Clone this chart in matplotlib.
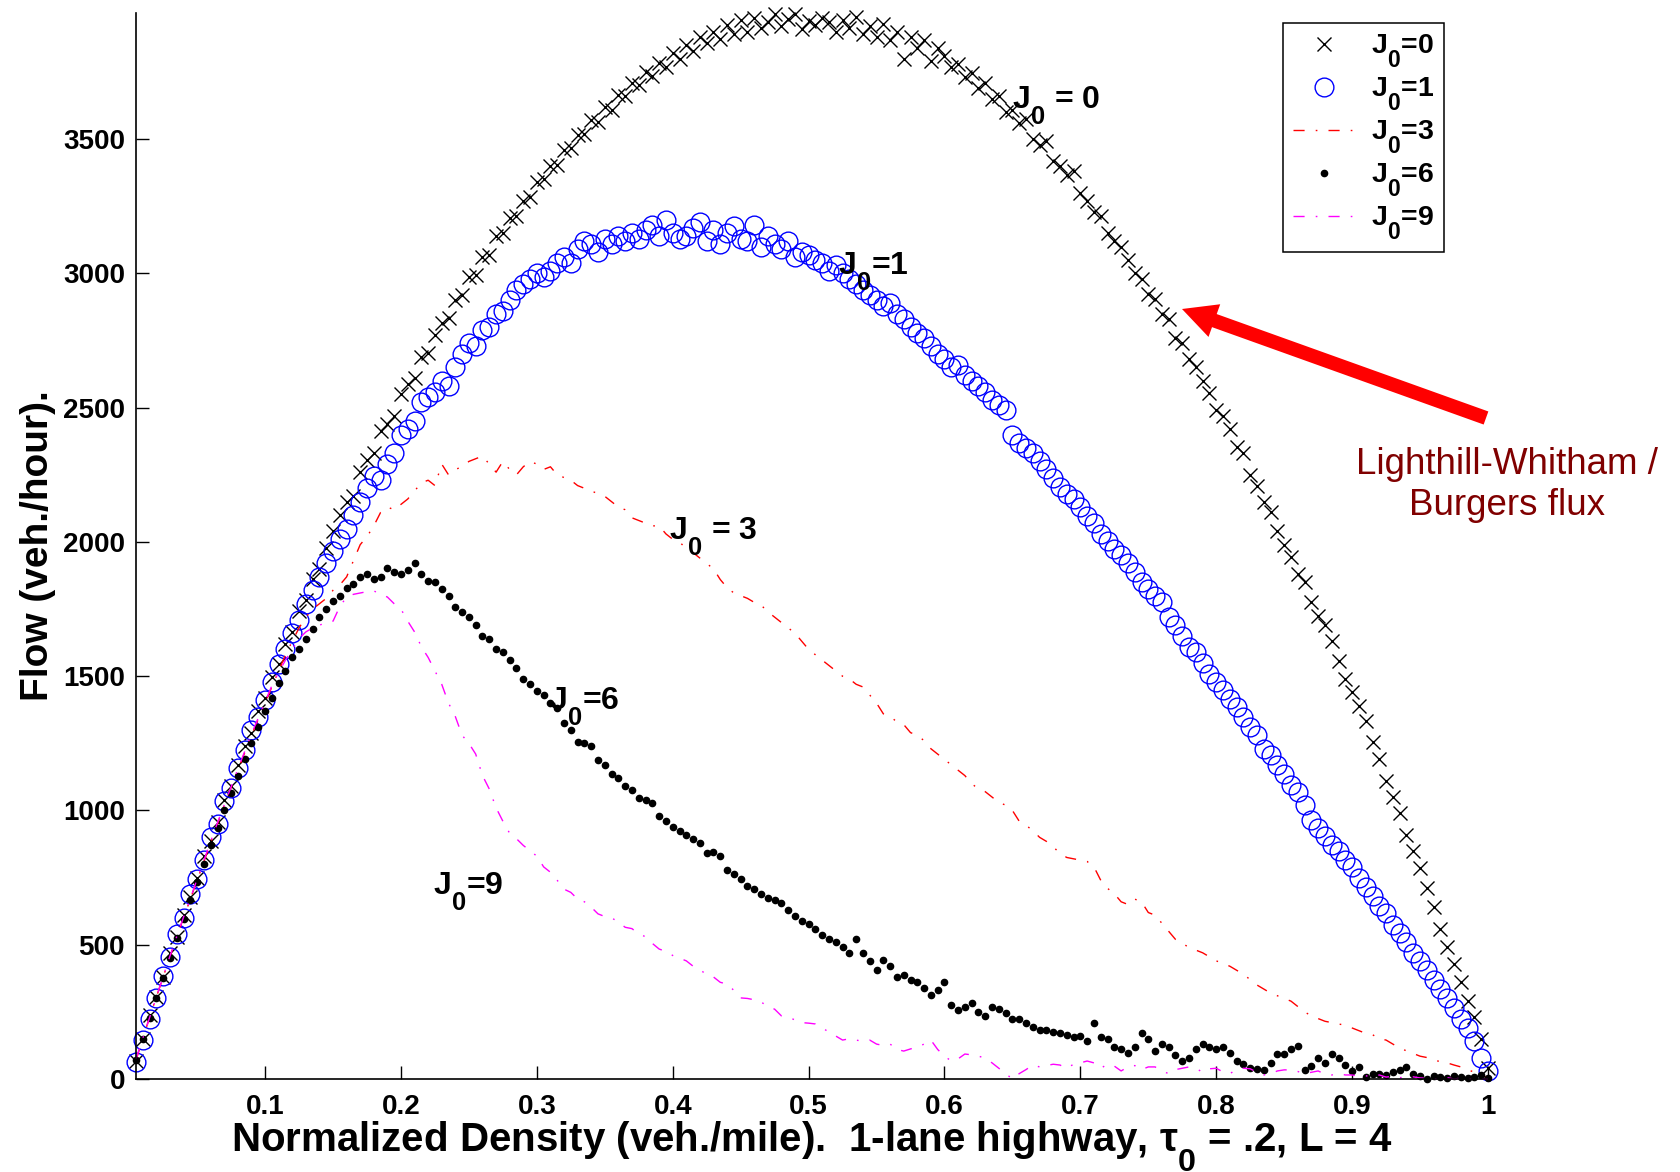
import numpy as np
import matplotlib.pyplot as plt
import matplotlib._mathtext as mathtext_internal
from matplotlib.patches import FancyArrowPatch, ArrowStyle

plt.rcParams['font.family'] = ['Liberation Sans', 'DejaVu Sans']
plt.rcParams['font.weight'] = 'bold'
plt.rcParams['axes.labelweight'] = 'bold'
plt.rcParams['mathtext.fontset'] = 'custom'
plt.rcParams['mathtext.rm'] = 'Liberation Sans:bold'
plt.rcParams['mathtext.it'] = 'Liberation Sans:bold'
plt.rcParams['mathtext.bf'] = 'Liberation Sans:bold'
# MATLAB-like subscripts: larger and dropped lower
mathtext_internal.SHRINK_FACTOR = 0.8
mathtext_internal.FontConstantsBase.sub1 = 0.95

# normalized density grid (200 sites)
density = np.arange(1, 201) / 200

flow_j0 = [66, 150, 240, 305, 380, 468, 530, 612, 676, 748,
           830, 887, 958, 1040, 1092, 1170, 1240, 1290, 1372, 1420,
           1496, 1545, 1620, 1665, 1742, 1785, 1862, 1900, 1978, 2040,
           2100, 2150, 2170, 2262, 2305, 2330, 2415, 2440, 2470, 2552,
           2590, 2612, 2690, 2705, 2770, 2815, 2835, 2900, 2918, 2985,
           2995, 3060, 3070, 3140, 3150, 3205, 3215, 3270, 3285, 3340,
           3350, 3400, 3405, 3460, 3468, 3515, 3520, 3570, 3565, 3620,
           3610, 3665, 3660, 3710, 3700, 3750, 3735, 3785, 3770, 3820,
           3800, 3850, 3830, 3880, 3860, 3900, 3875, 3925, 3890, 3945,
           3900, 3950, 3915, 3935, 3965, 3920, 3948, 3968, 3910, 3940,
           3925, 3950, 3935, 3900, 3945, 3915, 3955, 3890, 3920, 3880,
           3930, 3870, 3900, 3800, 3880, 3840, 3870, 3790, 3840, 3810,
           3770, 3780, 3730, 3745, 3690, 3710, 3650, 3660, 3600, 3610,
           3560, 3575, 3500, 3480, 3495, 3420, 3400, 3365, 3380, 3300,
           3270, 3230, 3215, 3150, 3120, 3100, 3050, 3000, 2980, 2925,
           2905, 2850, 2830, 2760, 2740, 2680, 2650, 2600, 2555, 2490,
           2470, 2420, 2355, 2330, 2250, 2210, 2150, 2110, 2040, 1990,
           1945, 1880, 1850, 1775, 1725, 1690, 1630, 1555, 1490, 1440,
           1390, 1335, 1255, 1190, 1110, 1050, 990, 910, 850, 785,
           710, 640, 560, 490, 430, 360, 290, 230, 150, 40]

flow_j1 = [65, 145, 225, 300, 385, 455, 540, 600, 690, 745,
           815, 900, 950, 1035, 1085, 1160, 1225, 1300, 1350, 1410,
           1480, 1545, 1600, 1660, 1710, 1770, 1820, 1870, 1920, 1965,
           2010, 2050, 2100, 2150, 2200, 2245, 2230, 2290, 2330, 2400,
           2420, 2450, 2520, 2540, 2560, 2600, 2580, 2650, 2700, 2740,
           2730, 2790, 2800, 2850, 2860, 2900, 2940, 2960, 2980, 3000,
           2985, 3010, 3040, 3060, 3040, 3090, 3120, 3110, 3080, 3130,
           3110, 3140, 3120, 3150, 3130, 3160, 3180, 3140, 3200, 3150,
           3130, 3140, 3170, 3190, 3120, 3160, 3110, 3150, 3175, 3130,
           3120, 3180, 3100, 3140, 3110, 3090, 3120, 3060, 3080, 3070,
           3050, 3040, 3010, 3030, 3000, 2980, 2960, 2940, 2920, 2900,
           2880, 2890, 2850, 2830, 2800, 2780, 2760, 2730, 2700, 2680,
           2650, 2660, 2620, 2600, 2580, 2560, 2530, 2510, 2490, 2400,
           2370, 2350, 2330, 2300, 2270, 2240, 2205, 2180, 2160, 2130,
           2095, 2070, 2030, 2005, 1975, 1950, 1920, 1890, 1850, 1825,
           1800, 1775, 1720, 1690, 1650, 1610, 1590, 1550, 1510, 1480,
           1450, 1415, 1385, 1350, 1310, 1280, 1230, 1205, 1170, 1135,
           1095, 1070, 1020, 965, 935, 905, 870, 850, 815, 790,
           750, 715, 680, 645, 620, 575, 545, 510, 470, 440,
           405, 370, 335, 300, 265, 225, 190, 140, 80, 30]

flow_j3 = [70, 150, 230, 305, 380, 455, 530, 600, 670, 740,
           810, 880, 950, 1020, 1085, 1150, 1215, 1280, 1340, 1400,
           1460, 1520, 1580, 1630, 1680, 1720, 1750, 1770, 1790, 1820,
           1840, 1870, 1930, 1990, 2020, 2060, 2110, 2130, 2120, 2140,
           2160, 2190, 2220, 2230, 2210, 2290, 2250, 2270, 2280, 2300,
           2310, 2320, 2290, 2260, 2300, 2270, 2250, 2280, 2300, 2290,
           2270, 2280, 2250, 2240, 2230, 2210, 2200, 2190, 2180, 2170,
           2150, 2130, 2120, 2090, 2080, 2070, 2060, 2060, 2030, 2010,
           2000, 1975, 1960, 1940, 1920, 1900, 1860, 1830, 1810, 1800,
           1790, 1775, 1765, 1740, 1720, 1700, 1680, 1660, 1630, 1600,
           1580, 1560, 1540, 1520, 1500, 1490, 1470, 1460, 1430, 1400,
           1360, 1350, 1330, 1320, 1290, 1280, 1260, 1230, 1210, 1190,
           1170, 1150, 1130, 1100, 1080, 1070, 1050, 1030, 1020, 1000,
           960, 945, 925, 900, 885, 865, 840, 825, 820, 815,
           810, 790, 740, 710, 690, 660, 650, 670, 660, 620,
           610, 580, 550, 520, 505, 490, 480, 470, 455, 440,
           430, 420, 405, 390, 370, 350, 335, 320, 310, 300,
           290, 270, 250, 235, 225, 215, 210, 205, 200, 190,
           180, 170, 165, 150, 145, 130, 115, 105, 95, 85,
           80, 70, 65, 60, 52, 45, 35, 25, 15, 5]

flow_j6 = [72, 148, 228, 300, 378, 450, 525, 595, 665, 735,
           800, 870, 935, 1000, 1065, 1130, 1190, 1250, 1310, 1370,
           1420, 1475, 1520, 1570, 1600, 1640, 1675, 1720, 1750, 1780,
           1800, 1830, 1845, 1870, 1880, 1862, 1870, 1903, 1890, 1880,
           1895, 1921, 1880, 1854, 1850, 1824, 1800, 1757, 1739, 1720,
           1690, 1650, 1640, 1600, 1590, 1560, 1530, 1490, 1470, 1445,
           1430, 1400, 1380, 1325, 1300, 1255, 1250, 1240, 1188, 1170,
           1136, 1120, 1091, 1075, 1046, 1040, 1028, 979, 960, 940,
           923, 910, 895, 880, 841, 845, 830, 778, 765, 745,
           720, 707, 690, 674, 665, 655, 630, 607, 590, 577,
           560, 536, 520, 510, 490, 469, 521, 469, 440, 406,
           443, 420, 380, 387, 370, 361, 340, 313, 330, 361,
           276, 257, 270, 283, 250, 235, 268, 261, 245, 223,
           223, 208, 195, 182, 182, 175, 171, 165, 156, 160,
           140, 208, 156, 150, 119, 110, 97, 120, 171, 150,
           104, 130, 119, 90, 67, 80, 110, 130, 120, 112,
           119, 95, 67, 55, 41, 38, 34, 60, 93, 93,
           110, 123, 34, 50, 78, 60, 93, 80, 52, 30,
           45, 7, 20, 19, 15, 26, 35, 45, 20, 10,
           0, 12, 8, 5, 10, 6, 4, 8, 15, 5]

flow_j9 = [75, 152, 230, 305, 382, 458, 530, 603, 672, 745,
           815, 885, 955, 1022, 1090, 1155, 1220, 1285, 1345, 1405,
           1465, 1515, 1560, 1600, 1640, 1665, 1680, 1690, 1700, 1705,
           1760, 1795, 1805, 1810, 1815, 1818, 1805, 1795, 1770, 1750,
           1705, 1665, 1610, 1570, 1520, 1470, 1400, 1350, 1280, 1250,
           1210, 1130, 1080, 1010, 960, 915, 895, 870, 850, 830,
           790, 770, 740, 707, 695, 670, 660, 640, 615, 605,
           600, 585, 565, 560, 540, 530, 505, 484, 475, 460,
           450, 440, 420, 406, 390, 380, 360, 354, 330, 302,
           300, 295, 287, 270, 260, 235, 230, 220, 210, 208,
           205, 190, 175, 160, 145, 150, 145, 140, 145, 130,
           125, 130, 110, 104, 112, 119, 130, 145, 110, 85,
           67, 75, 93, 90, 85, 78, 60, 40, 20, 0,
           20, 35, 52, 45, 50, 55, 52, 40, 55, 60,
           67, 60, 40, 55, 48, 30, 45, 50, 35, 45,
           45, 30, 20, 35, 40, 45, 40, 25, 38, 40,
           26, 20, 35, 40, 38, 25, 15, 20, 30, 34,
           34, 28, 20, 25, 30, 18, 15, 20, 15, 15,
           10, 12, 8, 15, 7, 10, 5, 7, 8, 4,
           3, 0, 2, 5, 0, 3, 0, 2, 0, 0]

x_ticks = [0.1, 0.2, 0.3, 0.4, 0.5, 0.6, 0.7, 0.8, 0.9, 1.0]
x_tick_labels = ['0.1', '0.2', '0.3', '0.4', '0.5', '0.6', '0.7', '0.8', '0.9', '1']
y_ticks = [0, 500, 1000, 1500, 2000, 2500, 3000, 3500]

fig = plt.figure(figsize=(16.8, 11.72), dpi=100)
ax = fig.add_axes([136/1680, 1 - 1079/1172, 1352/1680, 1066/1172])

dash_dot = (8, 8, 1.2, 8)
ax.plot(density, flow_j0, 'x', color='k', ms=9.5, mew=1.0, clip_on=False, label='J$_0$=0')
ax.plot(density, flow_j1, 'o', mfc='none', mec='#0000ff', ms=13.5, mew=1.0, clip_on=False, label='J$_0$=1')
ax.plot(density, flow_j3, '-.', color='#ff0000', lw=1.0, dashes=dash_dot, clip_on=False, label='J$_0$=3')
ax.plot(density, flow_j6, 'o', ls='none', color='k', ms=4.5, clip_on=False, label='J$_0$=6')
ax.plot(density, flow_j9, '-.', color='#ff00ff', lw=1.0, dashes=dash_dot, clip_on=False, label='J$_0$=9')

ax.set_xlim(0.005, 1.0)
ax.set_ylim(0, 3970)
ax.set_xticks(x_ticks)
ax.set_xticklabels(x_tick_labels)
ax.set_yticks(y_ticks)
ax.spines['top'].set_visible(False)
ax.spines['right'].set_visible(False)
for s in ['left', 'bottom']:
    ax.spines[s].set_linewidth(1.2)
ax.tick_params(direction='in', length=9.5, width=1.0, labelsize=20)
ax.tick_params(axis='x', pad=11)
ax.tick_params(axis='y', pad=8)

ax.set_xlabel('Normalized Density (veh./mile).  1-lane highway, $\\tau_0$ = .2, L = 4',
              fontsize=29, labelpad=-1)
ax.set_ylabel('Flow (veh./hour).', fontsize=28, labelpad=5)

# curve labels
ax.text(0.650, 3612, 'J$_0$ = 0', fontsize=23, va='baseline')
ax.text(0.522, 2994, 'J$_0$=1', fontsize=23, va='baseline')
ax.text(0.397, 2007, 'J$_0$ = 3', fontsize=23, va='baseline')
ax.text(0.309, 1376, 'J$_0$=6', fontsize=23, va='baseline')
ax.text(0.2235, 685, 'J$_0$=9', fontsize=23, va='baseline')

leg = ax.legend(loc='upper left', bbox_to_anchor=(1283/1680, 1 - 23/1172),
                bbox_transform=fig.transFigure, borderaxespad=0, fancybox=False,
                edgecolor='k', framealpha=1, fontsize=20.5, numpoints=1,
                handlelength=2.2, handletextpad=0.55, borderpad=0.35, labelspacing=0.2)
leg.get_frame().set_linewidth(1.1)

arrow = FancyArrowPatch(posA=(1486/1680, 1 - 418/1172), posB=(1182/1680, 1 - 309/1172),
                        transform=fig.transFigure,
                        arrowstyle=ArrowStyle.Simple(head_length=0.99, head_width=1.0, tail_width=0.4),
                        mutation_scale=25, color='#ff0000', lw=0, shrinkA=0, shrinkB=0)
fig.add_artist(arrow)

fig.text(1507/1680, 1 - 485/1172, 'Lighthill-Whitham /\nBurgers flux', ha='center', va='center',
         fontsize=26.5, fontweight='normal', color='#800000')

fig.savefig('out.png', dpi=100)
